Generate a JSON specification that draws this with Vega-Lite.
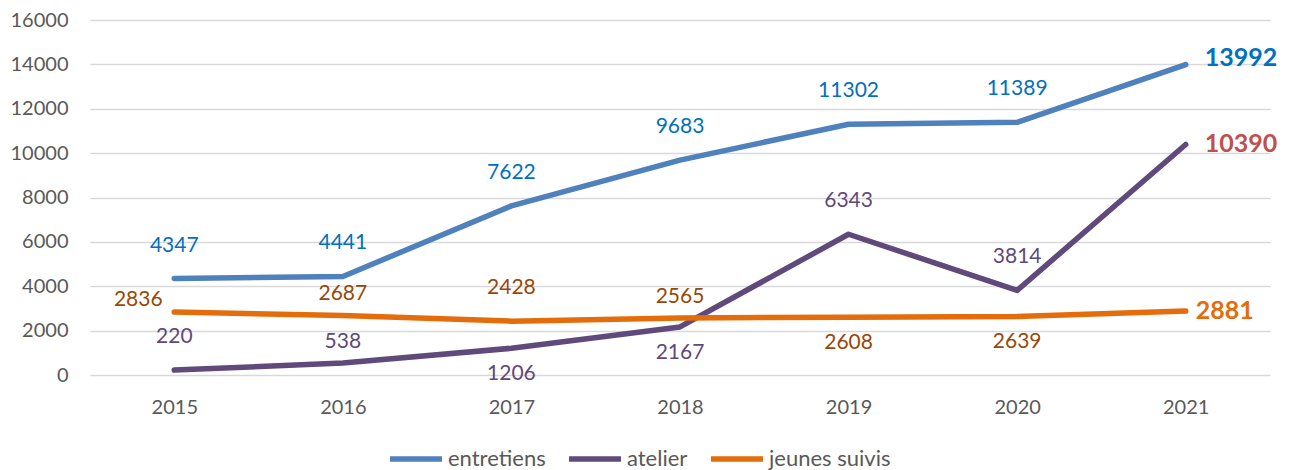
{
  "$schema": "https://vega.github.io/schema/vega-lite/v6.json",
  "autosize": {"type": "none"},
  "padding": {"left": 90, "top": 20, "right": 23, "bottom": 95},
  "width": 1180,
  "height": 355,
  "background": "white",
  "config": {
    "font": "Lato",
    "view": {"stroke": null},
    "axis": {"labelFont": "Lato", "labelColor": "#595959", "labelFontSize": 20, "titleFont": "Lato"},
    "legend": {"labelFont": "Lato"}
  },
  "data": {
    "values": [
      {"year": "2015", "series": "entretiens", "value": 4347},
      {"year": "2016", "series": "entretiens", "value": 4441},
      {"year": "2017", "series": "entretiens", "value": 7622},
      {"year": "2018", "series": "entretiens", "value": 9683},
      {"year": "2019", "series": "entretiens", "value": 11302},
      {"year": "2020", "series": "entretiens", "value": 11389},
      {"year": "2021", "series": "entretiens", "value": 13992},
      {"year": "2015", "series": "atelier", "value": 220},
      {"year": "2016", "series": "atelier", "value": 538},
      {"year": "2017", "series": "atelier", "value": 1206},
      {"year": "2018", "series": "atelier", "value": 2167},
      {"year": "2019", "series": "atelier", "value": 6343},
      {"year": "2020", "series": "atelier", "value": 3814},
      {"year": "2021", "series": "atelier", "value": 10390},
      {"year": "2015", "series": "jeunes suivis", "value": 2836},
      {"year": "2016", "series": "jeunes suivis", "value": 2687},
      {"year": "2017", "series": "jeunes suivis", "value": 2428},
      {"year": "2018", "series": "jeunes suivis", "value": 2565},
      {"year": "2019", "series": "jeunes suivis", "value": 2608},
      {"year": "2020", "series": "jeunes suivis", "value": 2639},
      {"year": "2021", "series": "jeunes suivis", "value": 2881}
    ]
  },
  "encoding": {
    "x": {
      "field": "year", "type": "ordinal",
      "scale": {"type": "point", "padding": 0.5},
      "axis": {"title": null, "labelAngle": 0, "ticks": false, "domain": false, "labelPadding": 22, "grid": false}
    },
    "y": {
      "field": "value", "type": "quantitative",
      "scale": {"domain": [0, 16000], "nice": false},
      "axis": {"title": null, "values": [0, 2000, 4000, 6000, 8000, 10000, 12000, 14000, 16000], "format": "d", "ticks": false, "domain": false, "labelPadding": 22, "gridColor": "#D9D9D9", "gridWidth": 1.5}
    }
  },
  "layer": [
    {
      "mark": {"type": "line", "strokeWidth": 5.5, "strokeCap": "round", "strokeJoin": "round"},
      "encoding": {
        "color": {
          "field": "series", "type": "nominal",
          "scale": {"domain": ["entretiens", "atelier", "jeunes suivis"], "range": ["#4F81BD", "#604A7B", "#E46C0A"]},
          "legend": {
            "title": null, "orient": "none", "direction": "horizontal",
            "legendX": 297, "legendY": 410, "padding": 0, "offset": 0,
            "symbolType": "stroke", "symbolSize": 2700, "symbolStrokeWidth": 5.5,
            "labelFontSize": 22, "labelColor": "#595959", "labelOffset": 3, "columnPadding": 12
          }
        }
      }
    },
    {
      "transform": [{"filter": "datum.year != '2021' && ((datum.series == 'entretiens') || (datum.series == 'atelier' && (datum.year == '2015' || datum.year == '2019' || datum.year == '2020')) || (datum.series == 'jeunes suivis' && datum.year == '2017'))"}],
      "mark": {"type": "text", "fontSize": 21, "dy": -33, "baseline": "middle"},
      "encoding": {
        "text": {"field": "value", "type": "quantitative", "format": "d"},
        "color": {"condition": [{"test": "datum.series == 'entretiens'", "value": "#0070C0"}, {"test": "datum.series == 'atelier'", "value": "#5F497A"}], "value": "#984807"}
      }
    },
    {
      "transform": [{"filter": "(datum.series == 'atelier' && datum.year == '2016') || (datum.series == 'jeunes suivis' && (datum.year == '2016' || datum.year == '2018'))"}],
      "mark": {"type": "text", "fontSize": 21, "dy": -21, "baseline": "middle"},
      "encoding": {
        "text": {"field": "value", "type": "quantitative", "format": "d"},
        "color": {"condition": [{"test": "datum.series == 'atelier'", "value": "#5F497A"}], "value": "#984807"}
      }
    },
    {
      "transform": [{"filter": "(datum.series == 'atelier' && (datum.year == '2017' || datum.year == '2018')) || (datum.series == 'jeunes suivis' && (datum.year == '2019' || datum.year == '2020'))"}],
      "mark": {"type": "text", "fontSize": 21, "dy": 26, "baseline": "middle"},
      "encoding": {
        "text": {"field": "value", "type": "quantitative", "format": "d"},
        "color": {"condition": [{"test": "datum.series == 'atelier'", "value": "#5F497A"}], "value": "#984807"}
      }
    },
    {
      "transform": [{"filter": "datum.series == 'jeunes suivis' && datum.year == '2015'"}],
      "mark": {"type": "text", "fontSize": 21, "dx": -36, "dy": -12, "baseline": "middle", "color": "#984807"},
      "encoding": {
        "text": {"field": "value", "type": "quantitative", "format": "d"}
      }
    },
    {
      "transform": [{"filter": "datum.year == '2021' && datum.series == 'entretiens'"}],
      "mark": {"type": "text", "fontSize": 25, "fontWeight": "bold", "dx": 19, "dy": -7, "align": "left", "baseline": "middle", "color": "#0070C0"},
      "encoding": {
        "text": {"field": "value", "type": "quantitative", "format": "d"}
      }
    },
    {
      "transform": [{"filter": "datum.year == '2021' && datum.series == 'atelier'"}],
      "mark": {"type": "text", "fontSize": 25, "fontWeight": "bold", "dx": 19, "dy": 0, "align": "left", "baseline": "middle", "color": "#C0504D"},
      "encoding": {
        "text": {"field": "value", "type": "quantitative", "format": "d"}
      }
    },
    {
      "transform": [{"filter": "datum.year == '2021' && datum.series == 'jeunes suivis'"}],
      "mark": {"type": "text", "fontSize": 25, "fontWeight": "bold", "dx": 10, "dy": 0, "align": "left", "baseline": "middle", "color": "#E46C0A"},
      "encoding": {
        "text": {"field": "value", "type": "quantitative", "format": "d"}
      }
    }
  ]
}
